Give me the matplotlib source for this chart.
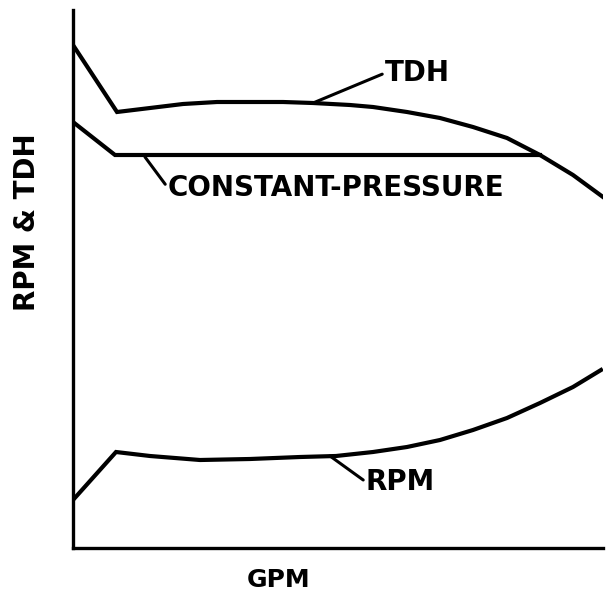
import matplotlib.pyplot as plt

# values (x = GPM, y = RPM & TDH, arbitrary units)
tdh_x = [0, 44, 77, 110, 144, 177, 210, 240, 277, 300, 334, 367, 400, 434, 467, 500, 530]
tdh_y = [503, 436, 440, 444, 446, 446, 446, 445, 443, 441, 436, 430, 421, 410, 393, 373, 351]

cp_x = [0, 42, 467]
cp_y = [426, 393, 393]

rpm_x = [0, 43, 77, 127, 177, 227, 263, 300, 334, 367, 400, 434, 467, 500, 528]
rpm_y = [48, 96, 92, 88, 89, 91, 92, 96, 101, 108, 118, 130, 145, 161, 178]

# label text, anchor on curve, label position
labels = [
    ('TDH', (240, 445), (312, 475)),
    ('CONSTANT-PRESSURE', (72, 391), (95, 360)),
    ('RPM', (257, 92), (293, 66)),
]

fig = plt.figure(figsize=(6.08, 5.92), dpi=100)
ax = fig.add_axes([73 / 608, 44 / 592, 530 / 608, 538 / 592])

lw = 3.0
ax.plot(tdh_x, tdh_y, color='black', lw=lw, solid_joinstyle='miter')
ax.plot(cp_x, cp_y, color='black', lw=lw, solid_joinstyle='miter')
ax.plot(rpm_x, rpm_y, color='black', lw=lw, solid_joinstyle='miter')

for text, anchor, pos in labels:
    ax.annotate(text, xy=anchor, xytext=pos, ha='left', va='center',
                fontsize=20, fontweight='bold', family='DejaVu Sans',
                arrowprops=dict(arrowstyle='-', color='black', lw=2.2,
                                shrinkA=0, shrinkB=0,
                                relpos=(0, 0.5)))

ax.set_xlim(0, 530)
ax.set_ylim(0, 538)
ax.set_xticks([])
ax.set_yticks([])
for side in ['top', 'right']:
    ax.spines[side].set_visible(False)
for side in ['left', 'bottom']:
    ax.spines[side].set_linewidth(2.4)

fig.text(279 / 608, 1 - 587 / 592, 'GPM', ha='center', va='baseline',
         fontsize=18, fontweight='bold')
fig.text(27 / 608, 1 - 222 / 592, 'RPM & TDH', ha='center', va='center',
         rotation=90, fontsize=20, fontweight='bold')

fig.savefig('out.png', dpi=100)
